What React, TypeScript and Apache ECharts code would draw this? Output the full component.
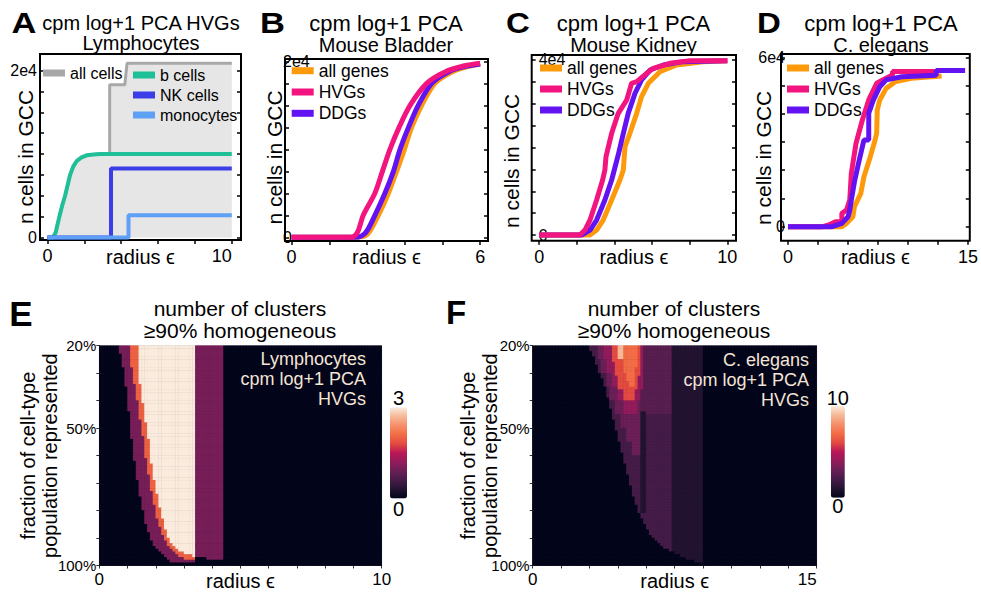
import React, { useEffect, useRef } from 'react';
import * as echarts from 'echarts';

const FONT = "'Liberation Sans', Arial, Helvetica, sans-serif";

// ---------------- Panel A: Lymphocytes ----------------
const aAllCells = [[0, 0], [0.3, 0], [0.45, 600], [0.65, 2500], [0.8, 3800], [0.96, 5000], [1.1, 6300], [1.23, 7500], [1.4, 8500], [1.6, 9200], [1.85, 9600], [2.13, 9850], [2.5, 9950], [2.86, 10000], [3.38, 10000], [3.38, 18300], [4.2, 18300], [4.32, 20900], [10, 20900]];
const aBCells = [[0, 0], [0.3, 0], [0.45, 600], [0.65, 2500], [0.8, 3800], [0.96, 5000], [1.1, 6300], [1.23, 7500], [1.4, 8500], [1.6, 9200], [1.85, 9600], [2.13, 9850], [2.5, 9950], [2.86, 10000], [10, 10000]];
const aNKCells = [[0, 0], [3.45, 0], [3.45, 8280], [10, 8280]];
const aMonocytes = [[0, 0], [4.4, 0], [4.4, 2680], [10, 2680]];
const aXTicks = [0, 2, 4, 6, 8, 10];
const aXLabels = [0, 10];
const aYTicks = [0, 2500, 5000, 7500, 10000, 12500, 15000, 17500, 20000];
const aYLabels = [0, 20000];
const aYLabelText = ['0', '2e4'];

// ---------------- Panel B: Mouse Bladder ----------------
const bAllGenes = [[0, 0], [2.0, 0], [2.4, 300], [2.76, 2500], [3.08, 5000], [3.34, 7500], [3.59, 10000], [3.82, 12500], [4.14, 15000], [4.56, 17500], [5.1, 18800], [5.6, 19400], [6, 19700]];
const bHVGs = [[0, 0], [1.9, 0], [2.1, 600], [2.28, 2500], [2.65, 5000], [2.89, 7500], [3.13, 10000], [3.42, 12500], [3.77, 15000], [4.3, 17500], [4.88, 18800], [5.5, 19500], [6, 19800]];
const bDDGs = [[0, 0], [2.05, 0], [2.35, 500], [2.65, 2500], [2.97, 5000], [3.24, 7500], [3.45, 10000], [3.72, 12500], [4.03, 15000], [4.46, 17500], [4.99, 18800], [5.5, 19400], [6, 19700]];
const bXTicks = [0, 1.2, 2.4, 3.6, 4.8, 6];
const bXLabels = [0, 6];
const bYTicks = [0, 2500, 5000, 7500, 10000, 12500, 15000, 17500, 20000];
const bYLabels = [0, 20000];
const bYLabelText = ['0', '2e4'];

// ---------------- Panel C: Mouse Kidney ----------------
const cAllGenes = [[0, 0], [2.7, 0], [3.05, 1140], [3.4, 3430], [3.85, 8000], [4.29, 12570], [4.47, 14860], [4.56, 20200], [4.82, 23240], [5.18, 27810], [5.44, 31620], [5.8, 34670], [6.42, 37330], [7.3, 38860], [8.72, 39620], [10, 39850]];
const cHVGs = [[0, 0], [2.16, 0], [2.43, 1140], [2.7, 3430], [3.05, 8000], [3.37, 12570], [3.49, 14860], [3.55, 17900], [3.85, 23240], [4.2, 27810], [4.65, 30860], [4.91, 34670], [5.18, 35050], [5.71, 36950], [6.06, 38100], [6.95, 39240], [8.01, 39850], [10, 39850]];
const cDDGs = [[0, 0], [2.25, 0], [2.7, 1140], [3.05, 3430], [3.49, 8000], [3.85, 12570], [4.2, 18290], [4.47, 23240], [4.73, 27810], [5.09, 32380], [5.44, 35430], [5.89, 37710], [6.6, 38860], [7.66, 39620], [10, 39850]];
const cXTicks = [0, 2, 4, 6, 8, 10];
const cXLabels = [0, 10];
const cYTicks = [0, 5000, 10000, 15000, 20000, 25000, 30000, 35000, 40000];
const cYLabels = [0, 40000];
const cYLabelText = ['0', '4e4'];

// ---------------- Panel D: C. elegans ----------------
const dAllGenes = [[0, 0], [4.49, 0], [4.88, 1180], [5.41, 3540], [5.54, 7090], [6.07, 11800], [6.33, 17700], [6.86, 24800], [7.26, 30700], [7.39, 33100], [7.44, 41300], [7.65, 44900], [8.18, 49000], [8.97, 51400], [10.3, 52600], [12.8, 53400]];
const dHVGs = [[0, 0], [2.9, 0], [3.4, 590], [3.96, 1770], [4.49, 1770], [4.49, 4720], [4.88, 5900], [5.15, 9450], [5.28, 18900], [5.67, 29500], [6.2, 37800], [6.73, 44900], [7.39, 50800], [8.18, 52600], [8.71, 53700], [8.71, 55000], [12.23, 55000]];
const dDDGs = [[0, 0], [3.69, 0], [4.49, 1180], [5.01, 3540], [5.15, 5900], [5.28, 9450], [5.54, 15900], [5.94, 23600], [6.33, 30700], [6.73, 30700], [6.73, 40200], [7.12, 44900], [7.65, 49600], [8.18, 52000], [9.5, 53100], [12.35, 53600], [12.35, 55300], [14.76, 55300]];
const dXTicks = [0, 2.5, 5, 7.5, 10, 12.5, 15];
const dXLabels = [0, 15];
const dYTicks = [0, 10000, 20000, 30000, 40000, 50000, 60000];
const dYLabels = [0, 60000];
const dYLabelText = ['0', '6e4'];

// ---------------- Heatmaps (rows = 1% steps from 20% to 100%, cols = radius bins) ----------------
const hmYTicks = [20, 30, 40, 50, 60, 70, 80, 90, 100];
const hmYLabels = [20, 50, 100];
const rocket = ['#03051a', '#221331', '#451c47', '#6a1f56', '#921c5b', '#b91657', '#e34a40', '#f26c45', '#f58e69', '#f6b896', '#faebdd'];

// Panel E: run-length lists [rowCount, column]
const eRowCount = 80;
const eColCount = 100;
const eXTicks = [0, 1, 2, 3, 4, 5, 6, 7, 8, 9, 10];
const eXLabels = [0, 10];
const ePurpleStartRuns = [[3, 7], [5, 8], [7, 9], [9, 10], [10, 11], [8, 12], [7, 13], [6, 14], [5, 15], [5, 16], [3, 17], [3, 18], [2, 19], [1, 20], [1, 21], [1, 22], [1, 23], [1, 24], [1, 25], [1, 34]];
const eOrangeStartRuns = [[8, 11], [6, 12], [6, 13], [7, 14], [6, 15], [8, 16], [6, 17], [6, 18], [5, 19], [5, 20], [3, 21], [3, 22], [2, 23], [2, 24], [1, 25], [1, 26], [1, 27], [1, 28], [1, 30], [2, 34]];
const eLightStartRuns = [[14, 14], [7, 15], [7, 16], [6, 17], [9, 18], [6, 19], [5, 20], [5, 21], [4, 22], [4, 23], [3, 24], [2, 25], [1, 26], [1, 27], [1, 28], [1, 30], [1, 33], [3, 34]];
const eLightEndCol = 34;
const eBandLastRow = [76, 76, 76, 76, 77, 77, 77, 77, 77, 77]; // columns 34..43, value 1

// Panel F: layers [value, firstRow, runs of [rowCount, leftCol, rightColExclusive]]
const fRowCount = 80;
const fColCount = 100;
const fXTicks = [0, 1.5, 3, 4.5, 6, 7.5, 9, 10.5, 12, 13.5, 15];
const fXLabels = [0, 15];
const fStartRuns = [[2, 20], [2, 21], [3, 22], [3, 23], [2, 24], [3, 25], [4, 26], [4, 27], [4, 28], [4, 29], [4, 30], [4, 31], [4, 32], [4, 33], [4, 34], [4, 35], [3, 36], [3, 37], [2, 38], [2, 39], [2, 40], [2, 41], [1, 42], [1, 43], [1, 44], [1, 45], [1, 46], [1, 48], [1, 50], [1, 52], [1, 54], [1, 57], [1, 60]];
const fRegionRightCol = 49;
const fBandRightCol = 60;
const fBandLastRow = 78;
const fLayers: [number, number, number[][]][] = [
  [2.5, 0, [[25, 38, 49]]],
  [3, 0, [[5, 23, 38], [5, 24, 38], [5, 26, 38], [5, 27, 38], [5, 29, 38], [5, 31, 38], [5, 33, 38], [5, 35, 38]]],
  [4, 0, [[5, 25, 39], [5, 26, 39], [5, 28, 39], [1, 30, 39], [4, 30, 38], [5, 32, 37]]],
  [6, 0, [[6, 28, 38], [5, 29, 38], [5, 30, 37], [4, 32, 36]]],
  [7, 0, [[3, 31, 37], [5, 32, 37], [2, 32, 36], [3, 33, 36], [2, 34, 36]]],
  [9, 0, [[5, 30, 32]]],
  [1, 24, [[37, 38, 40]]],
];

function expandRuns(runs: number[][]): number[] {
  const out: number[] = [];
  runs.forEach(([n, v]) => { for (let i = 0; i < n; i++) out.push(v); });
  return out;
}

function buildE() {
  const b1 = expandRuns(ePurpleStartRuns);
  const b2 = expandRuns(eOrangeStartRuns);
  const b3 = expandRuns(eLightStartRuns);
  const data: number[][] = [];
  for (let r = 0; r < eRowCount; r++) {
    for (let c = 0; c < eColCount; c++) {
      let v = 0;
      if (c >= b1[r] && c < Math.min(b2[r], eLightEndCol)) v = 1;
      if (c >= b2[r] && c < Math.min(b3[r], eLightEndCol)) v = 2;
      if (c >= b3[r] && c < eLightEndCol) v = 3;
      const bi = c - eLightEndCol;
      if (bi >= 0 && bi < eBandLastRow.length && r <= eBandLastRow[bi]) v = 1;
      data.push([c, r, v]);
    }
  }
  return data;
}

function buildF() {
  const start = expandRuns(fStartRuns);
  const grid: number[][] = [];
  for (let r = 0; r < fRowCount; r++) {
    const row: number[] = [];
    for (let c = 0; c < fColCount; c++) {
      let v = 0;
      if (c >= start[r] && c < fRegionRightCol) v = 2;
      if (r <= fBandLastRow && c >= Math.max(start[r], fRegionRightCol) && c < fBandRightCol) v = 1;
      row.push(v);
    }
    grid.push(row);
  }
  fLayers.forEach(([value, firstRow, runs]) => {
    let r = firstRow;
    runs.forEach(([n, left, right]) => {
      for (let i = 0; i < n; i++, r++) {
        for (let c = Math.max(left, start[r]); c < right; c++) grid[r][c] = value;
      }
    });
  });
  const data: number[][] = [];
  for (let r = 0; r < fRowCount; r++) for (let c = 0; c < fColCount; c++) data.push([c, r, grid[r][c]]);
  return data;
}

const ORANGE = '#fd9a0c';
const PINK = '#f2157f';
const PURPLE = '#6313f2';

function lineSeries(name: string, data: number[][], color: string, xi: number, yi: number, width: number, extra: any = {}) {
  return {
    type: 'line', name, data, xAxisIndex: xi, yAxisIndex: yi, showSymbol: false, symbol: 'none',
    lineStyle: { color, width }, itemStyle: { color }, emphasis: { disabled: true }, z: 3, ...extra,
  };
}

function xValueAxis(grid: number, min: number, max: number, ticks: number[], labels: number[], alignMax: boolean, gap: number) {
  return {
    gridIndex: grid, type: 'value', min, max, position: 'bottom',
    axisLine: { show: false, onZero: false },
    splitLine: { show: false },
    axisTick: { show: true, inside: false, length: 4, customValues: ticks, lineStyle: { color: '#000', width: 1.5 } },
    axisLabel: { customValues: labels, fontSize: 18, color: '#000', margin: 7, fontFamily: FONT, alignMaxLabel: alignMax ? 'right' : null },
    name: 'radius ϵ', nameLocation: 'middle', nameGap: gap, nameMoveOverlap: false,
    nameTextStyle: { fontSize: 20, color: '#000', fontFamily: FONT },
  };
}

function yValueAxes(grid: number, min: number, max: number, ticks: number[], labels: number[], texts: string[], inside: boolean, margin: number, gap: number, shift: number) {
  return [
    {
      gridIndex: grid, type: 'value', min, max, position: 'left',
      axisLine: { show: false, onZero: false }, splitLine: { show: false },
      axisTick: { show: true, inside: true, length: 4, customValues: ticks, lineStyle: { color: '#000', width: 1.5 } },
      axisLabel: {
        customValues: labels, inside, margin, fontSize: 16, color: '#000', fontFamily: FONT,
        formatter: (v: number) => texts[labels.indexOf(v)] ?? '',
      },
      name: 'n cells in GCC', nameLocation: 'middle', nameGap: gap, nameMoveOverlap: false,
      nameTextStyle: { fontSize: 21, color: '#000', fontFamily: FONT, padding: [0, shift, 0, 0] },
    },
    {
      gridIndex: grid, type: 'value', min, max, position: 'right',
      axisLine: { show: false, onZero: false }, splitLine: { show: false },
      axisTick: { show: true, inside: true, length: 4, customValues: ticks, lineStyle: { color: '#000', width: 1.5 } },
      axisLabel: { show: false },
    },
  ];
}

function legendBox(names: string[], left: number, top: number, gap: number, fontSize: number) {
  return {
    data: names, left, top, orient: 'vertical', icon: 'rect', itemWidth: 22, itemHeight: 7, itemGap: gap,
    padding: 0, selectedMode: false, itemStyle: { borderWidth: 0 },
    textStyle: { fontSize, lineHeight: 20, color: '#000', fontFamily: FONT },
  };
}

function titleBox(text: string, sub: string, x: number, size: number) {
  return {
    text, subtext: sub, left: x, top: 13.3, textAlign: 'center', padding: 0, itemGap: 0,
    textStyle: { fontSize: size, fontWeight: 'normal', color: '#000', lineHeight: 20, fontFamily: FONT },
    subtextStyle: { fontSize: 20, color: '#000', lineHeight: 20, fontFamily: FONT },
  };
}

function letter(t: string, x: number, y: number, size: number, sx: number) {
  return {
    type: 'text', x, y, z: 100, scaleX: sx,
    style: { text: t, fontSize: size, fontWeight: 'bold', fontFamily: FONT, fill: '#000', align: 'center', verticalAlign: 'middle', textAlign: 'center', textVerticalAlign: 'middle' },
  };
}

function annotation(t: string, x: number, y: number) {
  return {
    type: 'text', x, y, z: 100,
    style: { text: t, fontSize: 18, lineHeight: 20, fontFamily: FONT, fill: '#f4e4d5', align: 'right', verticalAlign: 'top', textAlign: 'right', textVerticalAlign: 'top' },
  };
}

function heatAxes(grid: number, cols: number, rows: number, xMax: number, xTicks: number[], xLabels: number[], alignMax: boolean, nameGap: number) {
  const xCats = Array.from({ length: cols }, (_, i) => String(i));
  const yCats = Array.from({ length: rows }, (_, i) => String(i));
  const x = [
    { gridIndex: grid, type: 'category', data: xCats, show: false, position: 'top' },
    {
      gridIndex: grid, type: 'value', min: 0, max: xMax, position: 'bottom',
      axisLine: { show: true, onZero: false, lineStyle: { color: '#333', width: 1 } }, splitLine: { show: false },
      axisTick: { show: true, length: 3, customValues: xTicks, lineStyle: { color: '#333' } },
      axisLabel: { customValues: xLabels, fontSize: 17, color: '#000', margin: 5, fontFamily: FONT, alignMaxLabel: alignMax ? 'right' : null },
      name: 'radius ϵ', nameLocation: 'middle', nameGap: 5.5, nameMoveOverlap: false, nameTextStyle: { fontSize: 20, color: '#000', fontFamily: FONT },
    },
  ];
  const y = [
    { gridIndex: grid, type: 'category', data: yCats, inverse: true, show: false, position: 'right' },
    {
      gridIndex: grid, type: 'value', min: 20, max: 100, inverse: true, position: 'left',
      axisLine: { show: true, onZero: false, lineStyle: { color: '#333', width: 1 } }, splitLine: { show: false },
      axisTick: { show: true, length: 3, customValues: hmYTicks, lineStyle: { color: '#333' } },
      axisLabel: { customValues: hmYLabels, formatter: '{value}%', fontSize: 15, color: '#000', margin: 3, fontFamily: FONT },
      name: 'fraction of cell-type\npopulation represented', nameLocation: 'middle', nameGap, nameMoveOverlap: false,
      nameTextStyle: { fontSize: 20, lineHeight: 22, color: '#000', fontFamily: FONT },
    },
  ];
  return { x, y };
}

export default function App() {
  const ref = useRef<HTMLDivElement>(null);
  useEffect(() => {
    if (!ref.current) return;
    const chart = echarts.init(ref.current, undefined, { renderer: 'svg' });
    const eAx = heatAxes(4, eColCount, eRowCount, 10, eXTicks, eXLabels, false, 38);
    const fAx = heatAxes(5, fColCount, fRowCount, 15, fXTicks, fXLabels, true, 31.7);
    const option: any = {
      animation: false,
      textStyle: { fontFamily: FONT },
      title: [
        titleBox('cpm log+1 PCA HVGs', 'Lymphocytes', 141, 20),
        titleBox('cpm log+1 PCA', 'Mouse Bladder', 386, 22),
        titleBox('cpm log+1 PCA', 'Mouse Kidney', 633.5, 22),
        titleBox('cpm log+1 PCA', 'C. elegans', 881, 22),
        { text: 'number of clusters\n≥90% homogeneous', left: 240, top: 297, textAlign: 'center', padding: 0, textStyle: { fontSize: 21, lineHeight: 22, fontWeight: 'normal', color: '#000', fontFamily: FONT } },
        { text: 'number of clusters\n≥90% homogeneous', left: 674, top: 297, textAlign: 'center', padding: 0, textStyle: { fontSize: 21, lineHeight: 22, fontWeight: 'normal', color: '#000', fontFamily: FONT } },
      ],
      grid: [
        { left: 40, top: 54, width: 201, height: 186, show: true, borderColor: '#000', borderWidth: 2, backgroundColor: 'transparent' },
        { left: 285, top: 59, width: 203, height: 182, show: true, borderColor: '#000', borderWidth: 2, backgroundColor: 'transparent' },
        { left: 531.7, top: 55, width: 204.3, height: 185.7, show: true, borderColor: '#000', borderWidth: 2, backgroundColor: 'transparent' },
        { left: 781, top: 54, width: 199, height: 186.7, show: true, borderColor: '#000', borderWidth: 2, backgroundColor: 'transparent' },
        { left: 99.3, top: 345.7, width: 282.4, height: 220.3, show: true, borderColor: '#d0d0d0', borderWidth: 1, backgroundColor: rocket[0] },
        { left: 532.7, top: 345.7, width: 284, height: 220.3, show: true, borderColor: '#d0d0d0', borderWidth: 1, backgroundColor: rocket[0] },
      ],
      xAxis: [
        xValueAxis(0, -0.4, 10.5, aXTicks, aXLabels, true, 7),
        xValueAxis(1, -0.21, 6.25, bXTicks, bXLabels, false, 6),
        xValueAxis(2, -0.4, 10.46, cXTicks, cXLabels, false, 6),
        xValueAxis(3, -0.58, 15.15, dXTicks, dXLabels, false, 6),
        ...eAx.x,
        ...fAx.x,
      ],
      yAxis: [
        ...yValueAxes(0, -300, 22000, aYTicks, aYLabels, aYLabelText, false, 3, 4, 20),
        ...yValueAxes(1, -420, 20270, bYTicks, bYLabels, bYLabelText, true, -2, 0, 15),
        ...yValueAxes(2, -1300, 41140, cYTicks, cYLabels, cYLabelText, true, 7, 10, 26),
        ...yValueAxes(3, -4960, 61170, dYTicks, dYLabels, dYLabelText, false, -4, 7.5, 21),
        ...eAx.y,
        ...fAx.y,
      ],
      legend: [
        legendBox(['all cells'], 43, 63, 0, 16),
        legendBox(['b cells', 'NK cells', 'monocytes'], 133, 65, 0, 16),
        legendBox(['all genes', 'HVGs', 'DDGs'], 291.7, 60.7, 1.3, 17.5),
        legendBox(['all genes', 'HVGs', 'DDGs'], 540, 58, 1, 17.5),
        legendBox(['all genes', 'HVGs', 'DDGs'], 787, 58, 1, 17.5),
      ],
      visualMap: [
        {
          type: 'continuous', seriesIndex: 13, min: 0, max: 3, orient: 'vertical', left: 390, top: 387.5,
          itemWidth: 17, itemHeight: 91, text: ['3', '0'], textGap: 0, calculable: false, realtime: false, hoverLink: false,
          padding: 0, inRange: { color: rocket }, textStyle: { fontSize: 20, color: '#000', fontFamily: FONT },
        },
        {
          type: 'continuous', seriesIndex: 14, min: 0, max: 10, orient: 'vertical', left: 826.7, top: 387.5,
          itemWidth: 14, itemHeight: 91.7, text: ['10', '0'], textGap: -1.5, calculable: false, realtime: false, hoverLink: false,
          padding: 0, inRange: { color: rocket }, textStyle: { fontSize: 20, color: '#000', fontFamily: FONT },
        },
      ],
      graphic: [
        letter('A', 24, 22.5, 30, 1.15),
        letter('B', 272.5, 23, 30, 1.15),
        letter('C', 518, 23, 30, 1.1),
        letter('D', 769, 23, 30, 1.1),
        letter('E', 21, 313.5, 35, 1),
        letter('F', 456, 312, 33, 1),
        annotation('Lymphocytes\ncpm log+1 PCA\nHVGs', 366, 349.3),
        annotation('C. elegans\ncpm log+1 PCA\nHVGs', 809, 350),
      ],
      series: [
        lineSeries('all cells', aAllCells, '#a8a8a8', 0, 0, 3, { areaStyle: { color: '#e6e6e6', opacity: 1 }, z: 2 }),
        lineSeries('b cells', aBCells, '#1fbf98', 0, 0, 4),
        lineSeries('NK cells', aNKCells, '#3b3de6', 0, 0, 4),
        lineSeries('monocytes', aMonocytes, '#5ea0f6', 0, 0, 4),
        lineSeries('all genes', bAllGenes, ORANGE, 1, 2, 5, { smooth: 0.3 }),
        lineSeries('DDGs', bDDGs, PURPLE, 1, 2, 5, { smooth: 0.3 }),
        lineSeries('HVGs', bHVGs, PINK, 1, 2, 5, { smooth: 0.3 }),
        lineSeries('all genes', cAllGenes, ORANGE, 2, 4, 5),
        lineSeries('DDGs', cDDGs, PURPLE, 2, 4, 5),
        lineSeries('HVGs', cHVGs, PINK, 2, 4, 5),
        lineSeries('all genes', dAllGenes, ORANGE, 3, 6, 5),
        lineSeries('HVGs', dHVGs, PINK, 3, 6, 5),
        lineSeries('DDGs', dDDGs, PURPLE, 3, 6, 5),
        { type: 'heatmap', name: 'E', xAxisIndex: 4, yAxisIndex: 8, data: buildE(), progressive: 0, emphasis: { disabled: true } },
        { type: 'heatmap', name: 'F', xAxisIndex: 6, yAxisIndex: 10, data: buildF(), progressive: 0, emphasis: { disabled: true } },
      ],
    };
    chart.setOption(option);
    return () => chart.dispose();
  }, []);
  return <div ref={ref} style={{ position: 'absolute', left: 0, top: 0, width: 981, height: 592, background: '#fff' }} />;
}
